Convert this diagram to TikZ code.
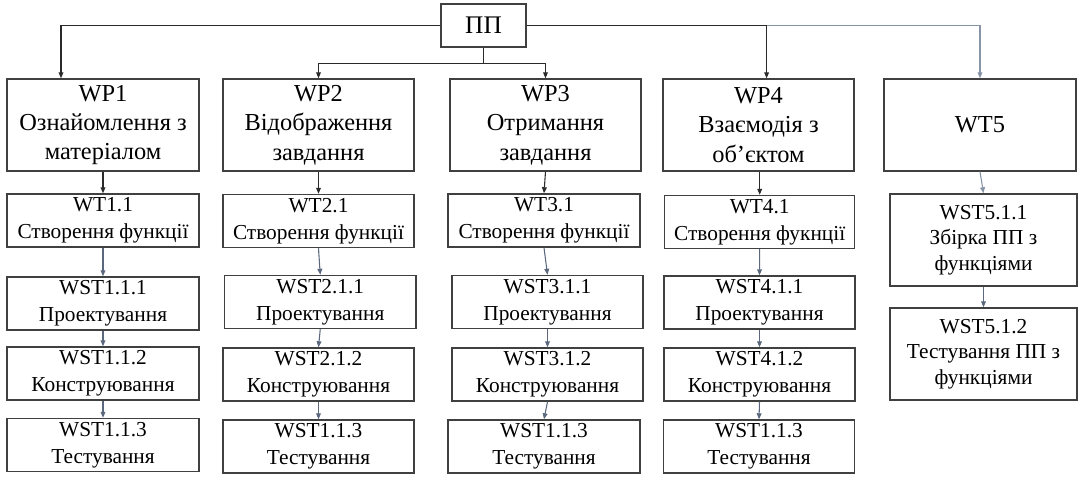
\documentclass[tikz,border=0pt]{standalone}
\usepackage{fontspec}
\setmainfont{Liberation Serif}
\usetikzlibrary{arrows.meta}
\definecolor{boxc}{HTML}{404040}
\definecolor{mainc}{HTML}{2A2A2A}
\definecolor{subc}{HTML}{5A677D}
\definecolor{lightc}{HTML}{8794A6}
\tikzset{
  bx/.style={draw=boxc, line width=1.1pt, inner sep=0pt, align=center, fill=white},
  wp/.style={bx, font=\fontsize{18.3}{22}\selectfont, minimum height=69pt},
  sm/.style={bx, font=\fontsize{16}{20}\selectfont, minimum height=39.75pt},
  arr/.style={-{Triangle[length=4.5pt,width=3.6pt]}, line width=0.8pt},
  mainarr/.style={arr, draw=mainc},
  subarr/.style={arr, draw=subc},
  lightarr/.style={arr, draw=lightc}
}
\begin{document}
\begin{tikzpicture}[x=0.75pt,y=-0.75pt]
\useasboundingbox (0,0) rectangle (1079,476);
% top
\node[bx, font=\fontsize{19}{22}\selectfont, minimum width=63.75pt, minimum height=32.25pt] (pp) at (483.5,25.5) {ПП};
% WP row
\node[wp, minimum width=144pt] (wp1) at (103,125) {WP1\\Ознайомлення з\\матеріалом};
\node[wp, minimum width=143.25pt] (wp2) at (318.5,125) {WP2\\Відображення\\завдання};
\node[wp, minimum width=143.25pt] (wp3) at (545.5,125) {WP3\\Отримання\\завдання};
\node[wp, minimum width=143.25pt] (wp4) at (758.5,125) {WP4\\Взаємодія з\\об’єктом};
\node[wp, minimum width=144pt] (wt5) at (980,125) {WT5};
% column 1
\node[sm, minimum width=144pt] (wt11) at (103,220.5) {WT1.1\\Створення функції};
\node[sm, minimum width=144pt] (wst111) at (103,303.5) {WST1.1.1\\Проектування};
\node[sm, minimum width=144pt] (wst112) at (103,373.5) {WST1.1.2\\Конструювання};
\node[sm, minimum width=144pt] (wst113) at (103,445) {WST1.1.3\\Тестування};
% column 2
\node[sm, minimum width=143.25pt] (wt21) at (318.5,221) {WT2.1\\Створення функції};
\node[sm, minimum width=143.6pt] (wst211) at (320.25,302) {WST2.1.1\\Проектування};
\node[sm, minimum width=143.25pt] (wst212) at (318.5,374.5) {WST2.1.2\\Конструювання};
\node[sm, minimum width=143.25pt] (wst213) at (318.5,446.5) {WST1.1.3\\Тестування};
% column 3
\node[sm, minimum width=144pt] (wt31) at (544,220.5) {WT3.1\\Створення функції};
\node[sm, minimum width=143.25pt] (wst311) at (547.5,302) {WST3.1.1\\Проектування};
\node[sm, minimum width=143.25pt] (wst312) at (547.5,374.5) {WST3.1.2\\Конструювання};
\node[sm, minimum width=144pt] (wst313) at (544,446.5) {WST1.1.3\\Тестування};
% column 4
\node[sm, minimum width=142.5pt] (wt41) at (759.7,222) {WT4.1\\Створення фукнції};
\node[sm, minimum width=143.25pt] (wst411) at (759.5,302.5) {WST4.1.1\\Проектування};
\node[sm, minimum width=143.25pt] (wst412) at (759.5,374.5) {WST4.1.2\\Конструювання};
\node[sm, minimum width=143.25pt] (wst413) at (759,446.5) {WST1.1.3\\Тестування};
% column 5
\node[sm, font=\fontsize{16}{19}\selectfont, minimum width=140.25pt, minimum height=69pt] (wst511) at (983.5,240) {WST5.1.1\\Збірка ПП з\\функціями};
\node[sm, font=\fontsize{16}{19}\selectfont, minimum width=140.25pt, minimum height=69pt] (wst512) at (983.5,354) {WST5.1.2\\Тестування ПП з\\функціями};
% top connectors
\coordinate (cl) at (61,25.5);
\coordinate (cm) at (483.5,63.5);
\coordinate (c4) at (766.6,25.5);
\draw[mainarr] (pp.west) -- (cl) -- (cl |- wp1.north);
\draw[mainarr] (pp.east) -- (c4) -- (c4 |- wp4.north);
\draw[lightarr] (c4) -| (wt5.north);
\draw[mainc, line width=0.8pt] (pp.south) -- (cm);
\draw[mainarr] (cm) -| (wp2.north);
\draw[mainarr] (cm) -| (wp3.north);
% column connectors
\draw[mainarr] (wp1.south -| wt11.north) -- (wt11.north);
\draw[mainarr] (wp2.south) -- (wt21.north);
\draw[mainarr] (wp3.south) -- (wt31.north);
\draw[mainarr] (wp4.south -| wt41.north) -- (wt41.north);
\draw[lightarr] (wt5.south) -- (wst511.north);
\draw[subarr] (wt11.south) -- (wst111.north);
\draw[subarr] (wst111.south) -- (wst112.north);
\draw[subarr] (wst112.south) -- (wst113.north);
\draw[subarr] (wt21.south) -- (wst211.north);
\draw[subarr] (wst211.south) -- (wst212.north);
\draw[subarr] (wst212.south) -- (wst213.north);
\draw[subarr] (wt31.south) -- (wst311.north);
\draw[subarr] (wst311.south) -- (wst312.north);
\draw[subarr] (wst312.south) -- (wst313.north);
\draw[subarr] (wt41.south) -- (wst411.north);
\draw[subarr] (wst411.south) -- (wst412.north);
\draw[subarr] (wst412.south) -- (wst413.north);
\draw[subarr] (wst511.south) -- (wst512.north);
\end{tikzpicture}
\end{document}
